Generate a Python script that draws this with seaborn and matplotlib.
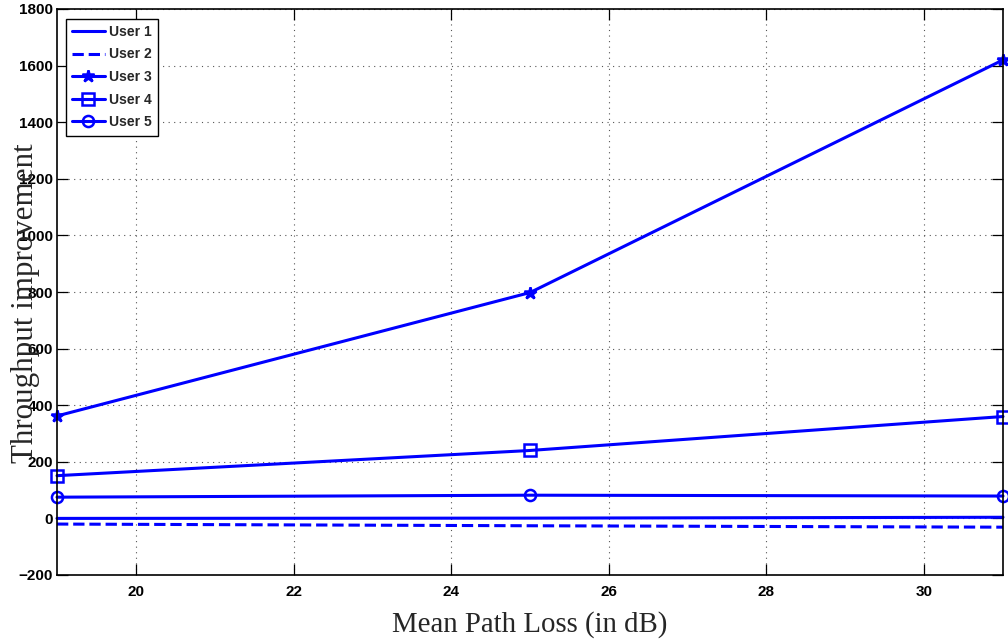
import matplotlib
matplotlib.use("Agg")
import matplotlib.pyplot as plt
import seaborn as sns
import pandas as pd

# Mean path loss (dB) and throughput improvement per user
path_loss = [19, 25, 31]
user1 = [0, 1, 4]
user2 = [-20, -26, -31]
user3 = [362, 798, 1620]
user4 = [151, 240, 360]
user5 = [75, 82, 79]

series = [
    ("User 1", user1, "-", None),
    ("User 2", user2, "--", None),
    ("User 3", user3, "-", "*"),
    ("User 4", user4, "-", "s"),
    ("User 5", user5, "-", "o"),
]

sns.set_style("white")
tick_font = ["Liberation Sans Narrow", "Liberation Sans", "DejaVu Sans"]
label_font = ["Liberation Serif", "DejaVu Serif"]

fig = plt.figure(figsize=(10.08, 6.39), dpi=100)
ax = fig.add_axes([57 / 1008, 1 - 575 / 639, 946 / 1008, 566 / 639])

blue = (0, 0, 1)
for name, vals, ls, mk in series:
    df = pd.DataFrame({"x": path_loss, "y": vals})
    kw = dict(linestyle=ls, linewidth=2.2, color=blue, label=name, clip_on=False)
    if mk is not None:
        kw.update(marker=mk, markersize=9 if mk == "*" else 8,
                  markerfacecolor="none" if mk != "*" else blue,
                  markeredgecolor=blue, markeredgewidth=1.8)
    if ls == "--":
        kw.update(dashes=(3, 2.2))
    sns.lineplot(data=df, x="x", y="y", ax=ax, **kw)

ax.set_xlim(19, 31)
ax.set_ylim(-200, 1800)
ax.set_xticks([20, 22, 24, 26, 28, 30])
ax.set_yticks(range(-200, 1801, 200))

ax.grid(True, linestyle=(0, (1, 4)), color="#555555", linewidth=0.8)
for s in ax.spines.values():
    s.set_visible(True)
    s.set_color("black")
    s.set_linewidth(1.2)

ax.tick_params(direction="in", length=8, width=0.9, top=True, right=True,
               bottom=True, left=True, colors="black")
ax.tick_params(axis="y", pad=3)
ax.tick_params(axis="x", pad=7)
for lab in ax.get_xticklabels() + ax.get_yticklabels():
    lab.set_family(tick_font)
    lab.set_fontweight("bold")
    lab.set_fontsize(11)

ax.set_xlabel("Mean Path Loss (in dB)", family=label_font, fontsize=20.8, labelpad=9)
ax.set_ylabel("Throughput improvement", family=label_font, fontsize=22.3)
ax.yaxis.set_label_coords(-0.018, 0.48)

leg = ax.legend(loc="upper left", bbox_to_anchor=(0.009, 0.983), frameon=True,
                fancybox=False, edgecolor="black", framealpha=1,
                prop={"family": tick_font, "weight": "bold", "size": 10},
                handlelength=2.4, handletextpad=0.25, borderpad=0.45,
                labelspacing=0.62, borderaxespad=0)
leg.get_frame().set_linewidth(1.0)

fig.savefig("out.png", dpi=100)
